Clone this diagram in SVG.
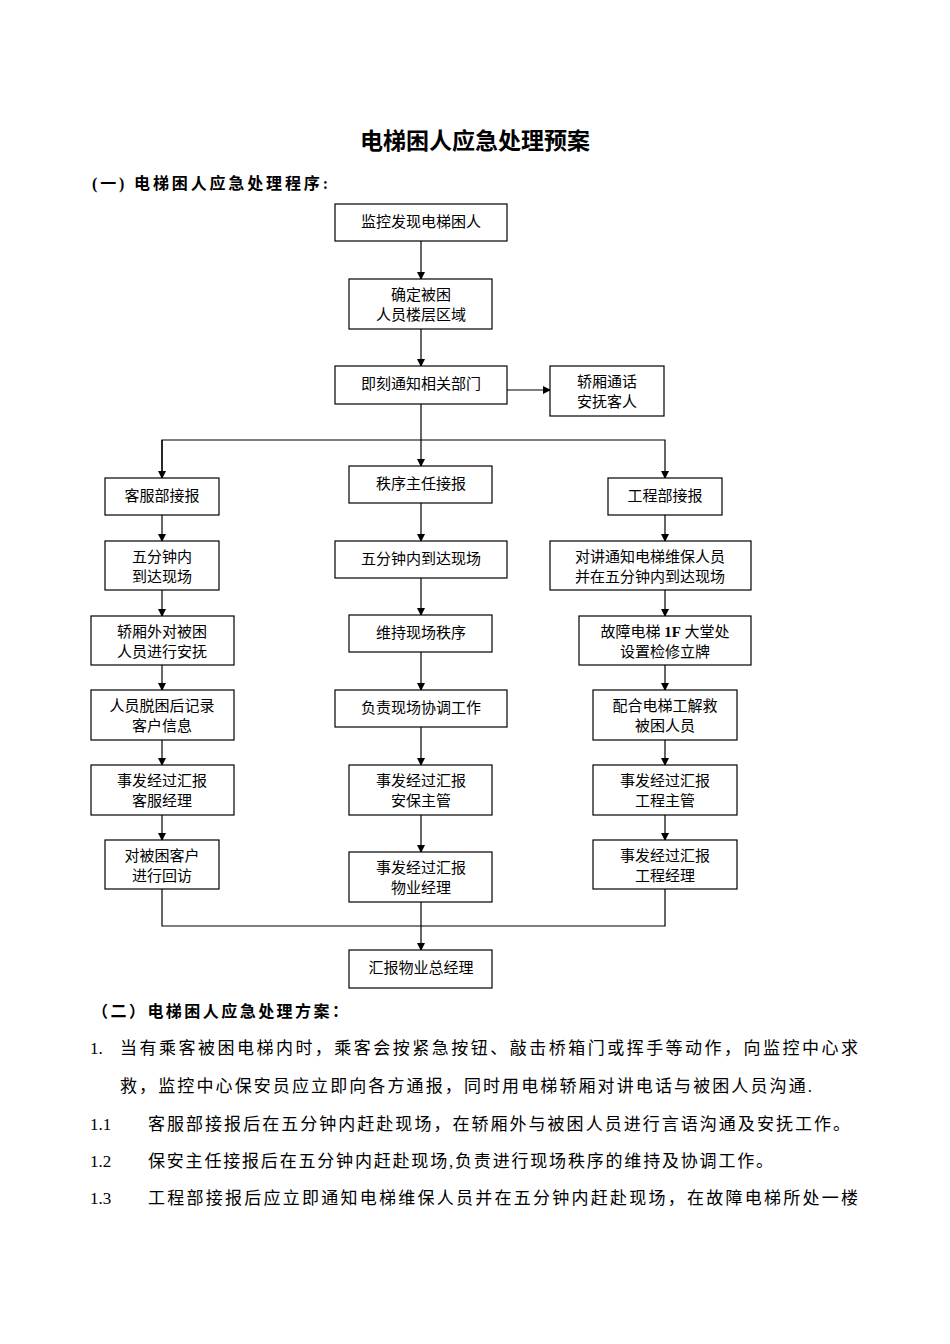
<svg xmlns="http://www.w3.org/2000/svg" width="950" height="1344" viewBox="0 0 950 1344">
<style>
.b{fill:#fff;stroke:#000;stroke-width:1.2}
.t{font-family:"Liberation Serif","Noto Sans CJK SC",serif;font-size:15px;text-anchor:middle;fill:#000}
.p{font-family:"Liberation Serif","Noto Sans CJK SC",serif;font-size:17px;fill:#000}
.c line,.c polyline{stroke:#000;stroke-width:1.2;fill:none}
</style>
<defs><marker id="a" markerWidth="8" markerHeight="8" refX="7" refY="4" orient="auto" markerUnits="userSpaceOnUse"><path d="M0,0L8,4L0,8z" fill="#000"/></marker></defs>
<rect width="950" height="1344" fill="#fff"/>
<text x="475" y="149" style="font-family:'Liberation Serif','Noto Sans CJK SC',serif;font-size:23px;font-weight:bold" text-anchor="middle">电梯困人应急处理预案</text>
<text x="92" y="189" style="font-family:'Liberation Serif','Noto Sans CJK SC',serif;font-size:16px;font-weight:bold" textLength="236">(一) 电梯困人应急处理程序:</text>
<g class="c" id="connectors">
<line x1="421" y1="241" x2="421" y2="279" marker-end="url(#a)"/>
<line x1="421" y1="329" x2="421" y2="366" marker-end="url(#a)"/>
<line x1="507" y1="390" x2="550" y2="390" marker-end="url(#a)"/>
<line x1="421" y1="404" x2="421" y2="466" marker-end="url(#a)"/>
<polyline points="162,478 162,440 665,440 665,478" marker-end="url(#a)"/>
<line x1="162" y1="440" x2="162" y2="478" marker-end="url(#a)"/>
<line x1="162" y1="515" x2="162" y2="541" marker-end="url(#a)"/>
<line x1="162" y1="590" x2="162" y2="616" marker-end="url(#a)"/>
<line x1="162" y1="665" x2="162" y2="690" marker-end="url(#a)"/>
<line x1="162" y1="740" x2="162" y2="765" marker-end="url(#a)"/>
<line x1="162" y1="815" x2="162" y2="840" marker-end="url(#a)"/>
<line x1="421" y1="503" x2="421" y2="541" marker-end="url(#a)"/>
<line x1="421" y1="578" x2="421" y2="615" marker-end="url(#a)"/>
<line x1="421" y1="652" x2="421" y2="690" marker-end="url(#a)"/>
<line x1="421" y1="727" x2="421" y2="765" marker-end="url(#a)"/>
<line x1="421" y1="815" x2="421" y2="852" marker-end="url(#a)"/>
<line x1="665" y1="515" x2="665" y2="541" marker-end="url(#a)"/>
<line x1="665" y1="590" x2="665" y2="616" marker-end="url(#a)"/>
<line x1="665" y1="665" x2="665" y2="690" marker-end="url(#a)"/>
<line x1="665" y1="740" x2="665" y2="765" marker-end="url(#a)"/>
<line x1="665" y1="815" x2="665" y2="840" marker-end="url(#a)"/>
<polyline points="162,889 162,926 665,926 665,889"/>
<line x1="421" y1="902" x2="421" y2="950" marker-end="url(#a)"/>
</g>
<g id="n1"><rect class="b" x="335" y="204" width="172" height="37"/><text class="t" x="421" y="227">监控发现电梯困人</text></g>
<g id="n2"><rect class="b" x="349" y="279" width="143" height="50"/><text class="t" x="421" y="300">确定被困</text><text class="t" x="421" y="320">人员楼层区域</text></g>
<g id="n3"><rect class="b" x="335" y="366" width="172" height="38"/><text class="t" x="421" y="389">即刻通知相关部门</text></g>
<g id="n4"><rect class="b" x="550" y="366" width="114" height="50"/><text class="t" x="607" y="387">轿厢通话</text><text class="t" x="607" y="407">安抚客人</text></g>
<g id="l1"><rect class="b" x="105" y="478" width="114" height="37"/><text class="t" x="162" y="501">客服部接报</text></g>
<g id="l2"><rect class="b" x="105" y="541" width="114" height="49"/><text class="t" x="162" y="562">五分钟内</text><text class="t" x="162" y="582">到达现场</text></g>
<g id="l3"><rect class="b" x="91" y="616" width="143" height="49"/><text class="t" x="162" y="637">轿厢外对被困</text><text class="t" x="162" y="657">人员进行安抚</text></g>
<g id="l4"><rect class="b" x="91" y="690" width="143" height="50"/><text class="t" x="162" y="711">人员脱困后记录</text><text class="t" x="162" y="731">客户信息</text></g>
<g id="l5"><rect class="b" x="91" y="765" width="143" height="50"/><text class="t" x="162" y="786">事发经过汇报</text><text class="t" x="162" y="806">客服经理</text></g>
<g id="l6"><rect class="b" x="105" y="840" width="114" height="49"/><text class="t" x="162" y="861">对被困客户</text><text class="t" x="162" y="881">进行回访</text></g>
<g id="m1"><rect class="b" x="349" y="466" width="143" height="37"/><text class="t" x="421" y="489">秩序主任接报</text></g>
<g id="m2"><rect class="b" x="335" y="541" width="172" height="37"/><text class="t" x="421" y="564">五分钟内到达现场</text></g>
<g id="m3"><rect class="b" x="349" y="615" width="143" height="37"/><text class="t" x="421" y="638">维持现场秩序</text></g>
<g id="m4"><rect class="b" x="335" y="690" width="172" height="37"/><text class="t" x="421" y="713">负责现场协调工作</text></g>
<g id="m5"><rect class="b" x="349" y="765" width="143" height="50"/><text class="t" x="421" y="786">事发经过汇报</text><text class="t" x="421" y="806">安保主管</text></g>
<g id="m6"><rect class="b" x="349" y="852" width="143" height="50"/><text class="t" x="421" y="873">事发经过汇报</text><text class="t" x="421" y="893">物业经理</text></g>
<g id="r1"><rect class="b" x="608" y="478" width="114" height="37"/><text class="t" x="665" y="501">工程部接报</text></g>
<g id="r2"><rect class="b" x="550" y="541" width="201" height="49"/><text class="t" x="650" y="562">对讲通知电梯维保人员</text><text class="t" x="650" y="582">并在五分钟内到达现场</text></g>
<g id="r3"><rect class="b" x="579" y="616" width="172" height="49"/><text class="t" x="665" y="637">故障电梯 <tspan font-weight="bold">1F</tspan> 大堂处</text><text class="t" x="665" y="657">设置检修立牌</text></g>
<g id="r4"><rect class="b" x="593" y="690" width="144" height="50"/><text class="t" x="665" y="711">配合电梯工解救</text><text class="t" x="665" y="731">被困人员</text></g>
<g id="r5"><rect class="b" x="593" y="765" width="144" height="50"/><text class="t" x="665" y="786">事发经过汇报</text><text class="t" x="665" y="806">工程主管</text></g>
<g id="r6"><rect class="b" x="593" y="840" width="144" height="49"/><text class="t" x="665" y="861">事发经过汇报</text><text class="t" x="665" y="881">工程经理</text></g>
<g id="end"><rect class="b" x="349" y="950" width="143" height="38"/><text class="t" x="421" y="973">汇报物业总经理</text></g>
<text x="92" y="1017" style="font-family:'Liberation Serif','Noto Sans CJK SC',serif;font-size:16px;font-weight:bold" textLength="256">（二）电梯困人应急处理方案：</text>
<text class="p" x="90" y="1054">1.</text><text class="p" x="120" y="1054" textLength="738">当有乘客被困电梯内时，乘客会按紧急按钮、敲击桥箱门或挥手等动作，向监控中心求</text>
<text class="p" x="120" y="1092" textLength="692">救，监控中心保安员应立即向各方通报，同时用电梯轿厢对讲电话与被困人员沟通.</text>
<text class="p" x="90" y="1130">1.1</text><text class="p" x="148" y="1130" textLength="702">客服部接报后在五分钟内赶赴现场，在轿厢外与被困人员进行言语沟通及安抚工作。</text>
<text class="p" x="90" y="1167">1.2</text><text class="p" x="148" y="1167" textLength="625">保安主任接报后在五分钟内赶赴现场,负责进行现场秩序的维持及协调工作。</text>
<text class="p" x="90" y="1204">1.3</text><text class="p" x="148" y="1204" textLength="710">工程部接报后应立即通知电梯维保人员并在五分钟内赶赴现场，在故障电梯所处一楼</text>
</svg>
